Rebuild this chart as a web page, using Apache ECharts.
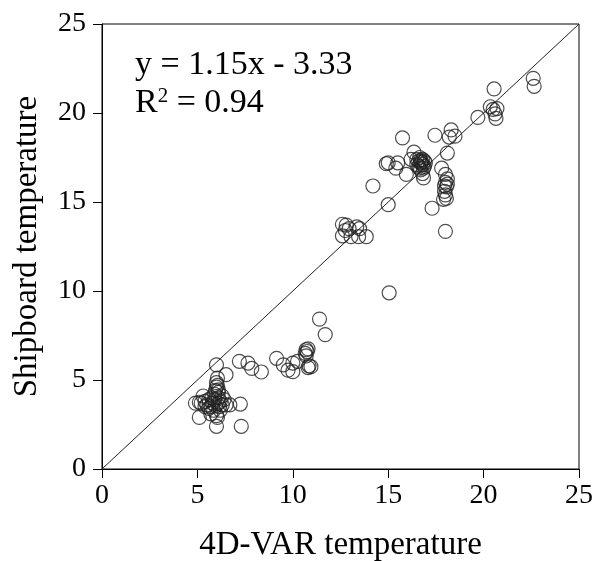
<!DOCTYPE html>
<html>
<head>
<meta charset="utf-8">
<script src="https://cdn.jsdelivr.net/npm/echarts@6/dist/echarts.min.js"></script>
<style>
  html, body { margin: 0; padding: 0; background: #fff; }
  #chart { width: 595px; height: 561px; }
</style>
</head>
<body>
<div id="chart"></div>
<script>
// 4D-VAR vs shipboard temperature
var var4d = [
  4.9, 5.1, 5.2, 5.3, 5.4, 5.5, 5.6, 5.7, 5.75, 5.8, 5.85, 5.9, 5.9, 5.95, 6.0, 6.0, 6.05, 6.0, 6.5, 6.1,
  6.1, 6.1, 6.15, 6.2, 6.3, 6.4, 6.5, 6.7, 7.25, 5.1, 5.7, 6.05, 6.0, 7.3, 6.2, 5.95, 6.05, 6.1, 5.6, 6.3,
  5.4, 6.0,
  7.2, 7.65, 7.85, 8.35, 9.15, 9.5, 9.75, 10.0, 10.0, 10.25, 10.7, 10.75, 10.65, 10.8, 10.7, 10.8, 10.95, 10.85,
  11.4, 11.7, 15.05,
  12.6, 12.8, 12.95, 13.35, 13.5, 12.6, 13.05, 13.45, 13.85, 12.75,
  14.2, 15.0, 14.9, 15.0, 15.5, 15.4, 15.95, 15.75, 16.35, 16.2,
  16.5, 16.6, 16.7, 16.8, 16.9, 16.6, 16.7, 16.8, 16.85, 16.5, 16.9, 16.8, 16.65, 16.75, 16.65, 16.85, 16.95, 16.7,
  17.45, 18.3, 18.5, 18.2, 18.1, 17.8, 18.0, 18.1, 18.0, 18.05, 17.95, 18.0, 17.9, 18.05, 17.3, 18.0, 18.1, 17.95,
  19.7, 20.35, 20.5, 20.7, 20.6, 20.65, 20.55, 22.6, 22.65
];
var shipboard = [
  3.7, 3.75, 3.7, 4.1, 3.8, 3.6, 3.9, 3.5, 4.0, 3.7, 3.3, 4.2, 3.9, 4.4, 4.6, 4.85, 5.1, 5.85, 5.3, 4.3,
  4.0, 3.7, 3.5, 3.8, 3.6, 3.9, 3.6, 3.6, 3.65, 2.9, 3.1, 2.9, 2.4, 2.4, 3.3, 3.55, 4.7, 4.45, 3.4, 4.1,
  3.5, 3.0,
  6.05, 5.95, 5.65, 5.45, 6.22, 5.85, 5.55, 5.95, 5.47, 6.05, 6.7, 6.6, 6.5, 6.75, 6.35, 5.7, 5.75, 5.8,
  8.42, 7.55, 9.9,
  13.75, 13.7, 13.5, 13.6, 13.5, 13.1, 13.05, 13.05, 13.05, 13.4,
  15.9, 14.85, 17.15, 17.2, 17.2, 16.9, 16.55, 18.6, 17.8, 17.4,
  17.4, 17.3, 17.2, 17.1, 17.3, 17.0, 16.8, 16.6, 16.35, 17.1, 17.0, 17.4, 17.5, 17.25, 16.9, 16.9, 17.2, 17.35,
  18.75, 19.05, 18.7, 18.65, 17.75, 16.9, 16.55, 16.3, 16.1, 15.85, 15.6, 15.4, 15.15, 15.2, 14.65, 13.35, 16.0, 15.9,
  19.75, 20.35, 20.2, 20.25, 19.95, 19.7, 21.35, 21.95, 21.5
];
var oneToOne = [[0, 0], [25, 25]];
var axisTicks = [0, 5, 10, 15, 20, 25];

var points = var4d.map(function (x, i) { return [x, shipboard[i]]; });
var serif = 'Liberation Serif';

var chart = echarts.init(document.getElementById('chart'));
var option = {
  animation: false,
  grid: {
    left: 102, right: 16, top: 24, bottom: 92,
    outerBoundsMode: 'none',
    show: true, borderColor: '#000', borderWidth: 1
  },
  xAxis: {
    type: 'value',
    min: axisTicks[0], max: axisTicks[axisTicks.length - 1], interval: 5,
    name: '4D-VAR temperature',
    nameLocation: 'middle', nameGap: 60,
    nameTextStyle: { fontFamily: serif, fontSize: 33, color: '#000' },
    axisLine: { show: true, lineStyle: { color: '#000', width: 1 } },
    axisTick: { show: true, inside: false, length: 9, lineStyle: { color: '#000' } },
    axisLabel: { fontFamily: serif, fontSize: 28, color: '#000', margin: 13 },
    splitLine: { show: false }
  },
  yAxis: {
    type: 'value',
    min: axisTicks[0], max: axisTicks[axisTicks.length - 1], interval: 5,
    name: 'Shipboard temperature',
    nameLocation: 'middle', nameGap: 58, nameRotate: 90,
    nameTextStyle: { fontFamily: serif, fontSize: 33, color: '#000' },
    axisLine: { show: true, lineStyle: { color: '#000', width: 1 } },
    axisTick: { show: true, inside: false, length: 9, lineStyle: { color: '#000' } },
    axisLabel: { fontFamily: serif, fontSize: 28, color: '#000', margin: 16 },
    splitLine: { show: false }
  },
  graphic: [
    {
      type: 'text', left: 135, top: 48,
      style: { text: 'y = 1.15x - 3.33', font: '34px "Liberation Serif"', fill: '#000' }
    },
    {
      type: 'text', left: 135, top: 86,
      style: {
        text: 'R{s|2} = 0.94',
        font: '34px "Liberation Serif"', fill: '#000',
        rich: { s: { fontSize: 21, fontFamily: serif, verticalAlign: 'top', padding: [0, 0, 13, 0] } }
      }
    }
  ],
  series: [
    {
      type: 'line', data: oneToOne, symbol: 'none', silent: true,
      lineStyle: { color: '#222', width: 1 }
    },
    {
      type: 'scatter', data: points, symbol: 'circle', symbolSize: 14,
      itemStyle: { color: 'rgba(0,0,0,0)', borderColor: '#222', borderWidth: 1.2 }
    }
  ]
};
chart.setOption(option);
</script>
</body>
</html>
